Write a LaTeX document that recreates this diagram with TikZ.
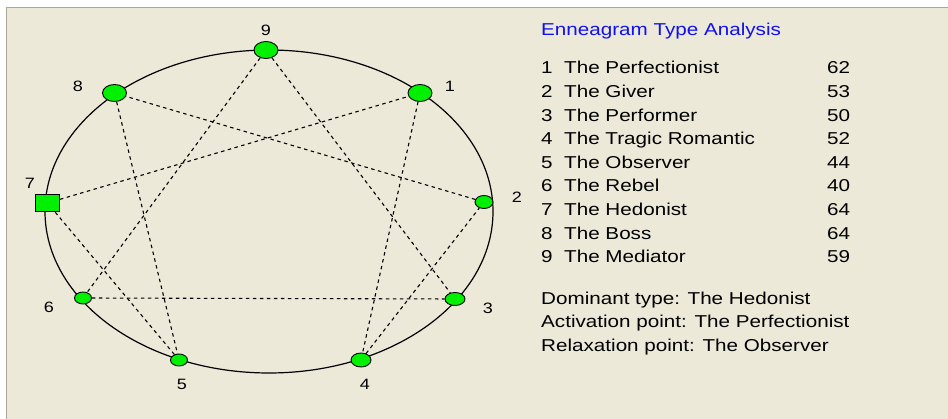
\documentclass[tikz,border=0pt]{standalone}
\usepackage{fontspec}
\setmainfont{Liberation Sans}[FakeStretch=1.2]
\usetikzlibrary{shapes.geometric}
\definecolor{bgbeige}{HTML}{ECE9D8}
\definecolor{edgegray}{HTML}{ACA899}
\definecolor{ptgreen}{HTML}{00F000}
\definecolor{titleblue}{HTML}{1010F0}
\tikzset{
  pt/.style={ellipse, draw=black, line width=0.9pt, fill=ptgreen, inner sep=0pt},
  ptsq/.style={rectangle, draw=black, line width=0.9pt, fill=ptgreen, inner sep=0pt, minimum width=24pt, minimum height=17pt},
  lbl/.style={inner sep=0pt, font=\fontsize{15}{17}\selectfont},
  link/.style={line width=1.1pt, dash pattern=on 3.5pt off 3.5pt},
  txt/.style={anchor=base west, inner sep=0pt, font=\fontsize{17.2}{20}\selectfont},
}
\begin{document}
\begin{tikzpicture}[x=1pt,y=-1pt]
\useasboundingbox (0,0) rectangle (948,419);
\fill[white] (0,0) rectangle (948,419);
\fill[bgbeige] (6,7) rectangle (948,419);
\draw[edgegray, line width=1.5pt] (6.5,419) -- (6.5,7.5) -- (948,7.5);
% outer curve
\draw[line width=1.2pt] (269,211.5) ellipse [x radius=224pt, y radius=161.5pt];
% points
\node[pt, minimum width=24pt, minimum height=17pt] (n9) at (266,50) {};
\node[pt, minimum width=24pt, minimum height=17pt] (n1) at (420,93) {};
\node[pt, minimum width=18pt, minimum height=13pt] (n2) at (484,202) {};
\node[pt, minimum width=20pt, minimum height=13pt] (n3) at (455,299) {};
\node[pt, minimum width=20pt, minimum height=14pt] (n4) at (361,360) {};
\node[pt, minimum width=17pt, minimum height=12pt] (n5) at (179,360) {};
\node[pt, minimum width=17pt, minimum height=12pt] (n6) at (83,298) {};
\node[ptsq] (n7) at (47.5,203) {};
\node[pt, minimum width=24pt, minimum height=17pt] (n8) at (114.5,93) {};
% connectors
\draw[link] (n9) -- (n3);
\draw[link] (n9) -- (n6);
\draw[link] (n6) -- (n3);
\draw[link] (n1) -- (n4);
\draw[link] (n4) -- (n2);
\draw[link] (n2) -- (n8);
\draw[link] (n8) -- (n5);
\draw[link] (n5) -- (n7);
\draw[link] (n7) -- (n1);
% labels
\node[lbl] (l9) at (266,30) {9};
\node[lbl] (l1) at (450,86) {1};
\node[lbl] (l2) at (517,197) {2};
\node[lbl] (l3) at (488,308) {3};
\node[lbl] (l4) at (365,384) {4};
\node[lbl] (l5) at (182,384) {5};
\node[lbl] (l6) at (49,307) {6};
\node[lbl] (l7) at (30,183) {7};
\node[lbl] (l8) at (78,86) {8};
% text panel
\node[txt, text=titleblue] (title) at (541,36) {Enneagram Type Analysis};
\foreach \i/\name/\score [count=\k from 0] in {1/The Perfectionist/62, 2/The Giver/53, 3/The Performer/50, 4/The Tragic Romantic/52, 5/The Observer/44, 6/The Rebel/40, 7/The Hedonist/64, 8/The Boss/64, 9/The Mediator/59}{
  \node[txt] (num\i) at (541,{74+23.6*\k}) {\i};
  \node[txt] (name\i) at (564,{74+23.6*\k}) {\name};
  \node[txt] (score\i) at (827,{74+23.6*\k}) {\score};
}
\node[txt] (dom) at (541,304.3) {Dominant type: The Hedonist};
\node[txt] (act) at (541,328) {Activation point: The Perfectionist};
\node[txt] (rel) at (541,351.7) {Relaxation point: The Observer};
\end{tikzpicture}
\end{document}
